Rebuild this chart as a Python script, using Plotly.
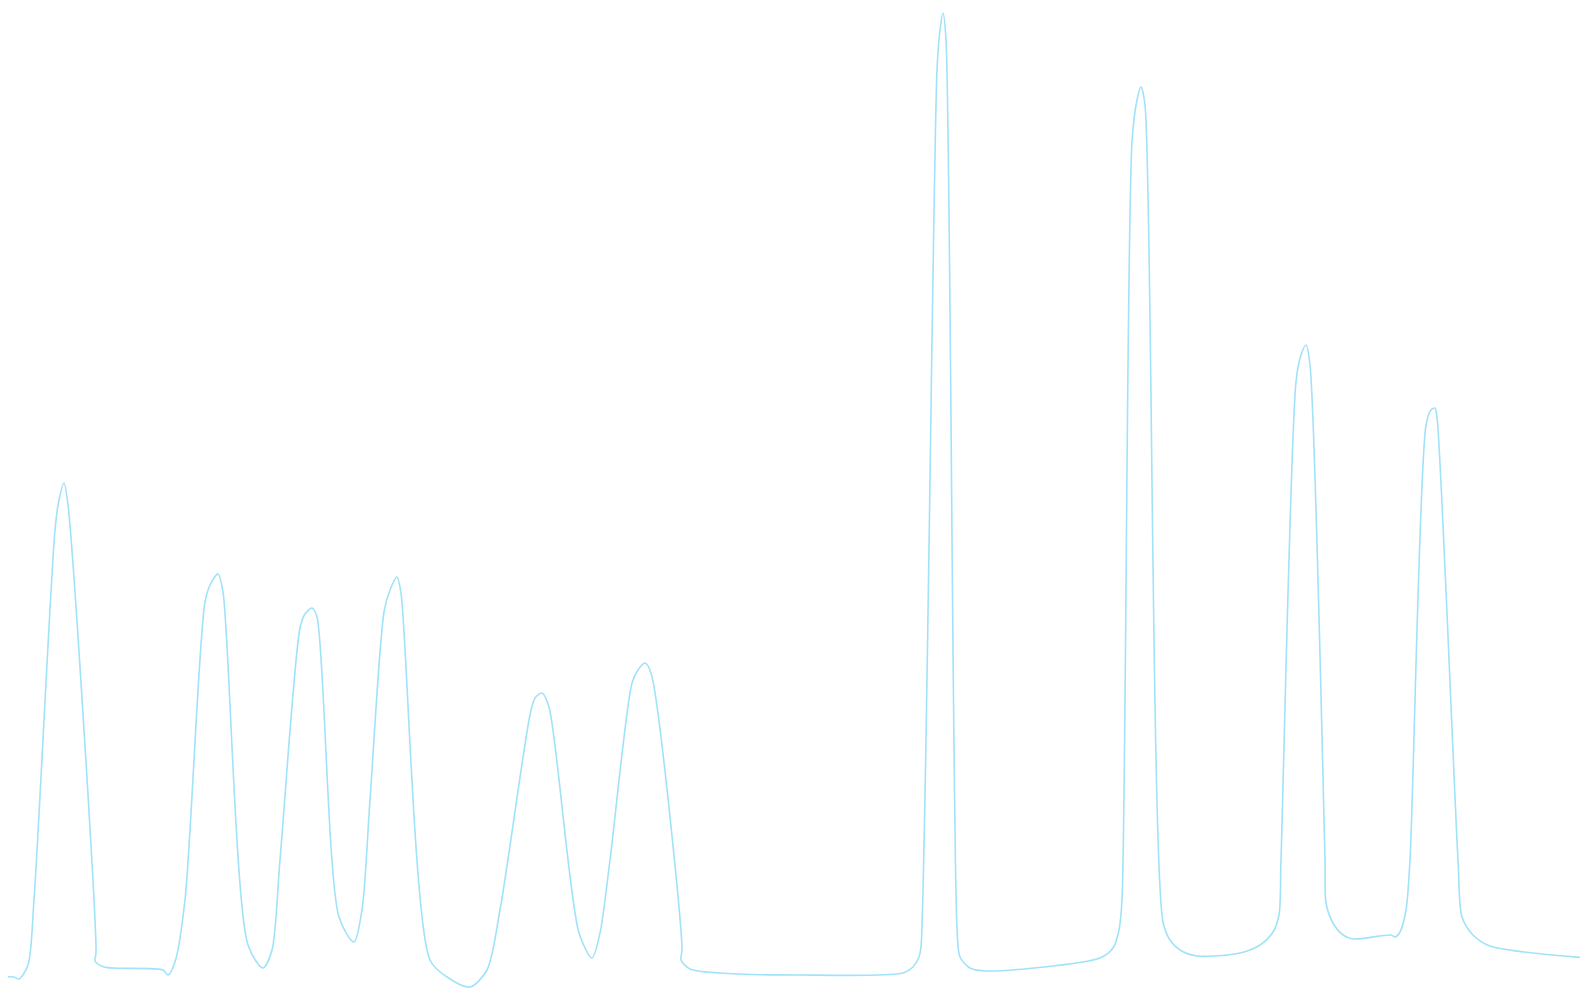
import plotly.graph_objects as go

# horizontal positions of the readings (page-pixel units)
t = [0, 14, 19, 28, 34, 55, 59, 64, 68, 96, 95, 104, 163, 168, 175, 185,
     205, 211, 218, 223, 248, 263, 272, 280, 300, 305, 312, 317, 339, 354,
     362, 370, 384, 390, 397, 401, 430, 447, 470, 487, 500, 530, 535, 542,
     549, 579, 592, 600, 610, 632, 638, 645, 651, 682, 681, 690, 720, 800,
     903, 913, 919, 921, 937, 940, 943, 946, 957, 960, 970, 987, 1100, 1113,
     1119, 1122, 1132, 1137, 1141, 1145, 1163, 1170, 1180, 1197, 1240, 1260,
     1273, 1279, 1281, 1296, 1301, 1306, 1310, 1325, 1326, 1333, 1343, 1353,
     1391, 1395, 1400, 1406, 1410, 1426, 1431, 1435, 1437, 1458, 1462, 1473,
     1490, 1588]
# level of each reading, measured downward from the top edge
depth = [977, 977, 979, 965, 900, 530, 500, 483, 505, 953, 961, 967, 970, 975,
         962, 900, 602, 583, 574, 592, 945, 968, 950, 860, 628, 614, 608, 617,
         917, 942, 910, 800, 612, 590, 577, 593, 960, 977, 987, 970, 910, 715,
         698, 693, 707, 933, 958, 933, 860, 683, 670, 663, 673, 950, 960, 969,
         973, 975, 973, 967, 957, 947, 70, 30, 13, 40, 928, 957, 968, 971, 958,
         948, 930, 900, 142, 100, 87, 105, 922, 940, 950, 956, 953, 945, 932,
         915, 860, 382, 355, 345, 365, 860, 903, 923, 935, 939, 935, 937, 932,
         910, 860, 425, 410, 408, 417, 860, 917, 935, 946, 958]
value = [988 - d for d in depth]

fig = go.Figure()
fig.add_trace(go.Scatter(
    x=t, y=value, mode="lines",
    line=dict(shape="spline", smoothing=0.8, color="rgb(160,226,249)", width=1.6),
    hoverinfo="skip", showlegend=False,
))
fig.update_layout(
    width=1580, height=980,
    margin=dict(l=0, r=0, t=0, b=0),
    paper_bgcolor="white", plot_bgcolor="white",
    xaxis=dict(range=[8, 1588], visible=False, fixedrange=True),
    yaxis=dict(range=[0, 980], visible=False, fixedrange=True),
)
fig.write_html("out.html", config={"displayModeBar": False})
